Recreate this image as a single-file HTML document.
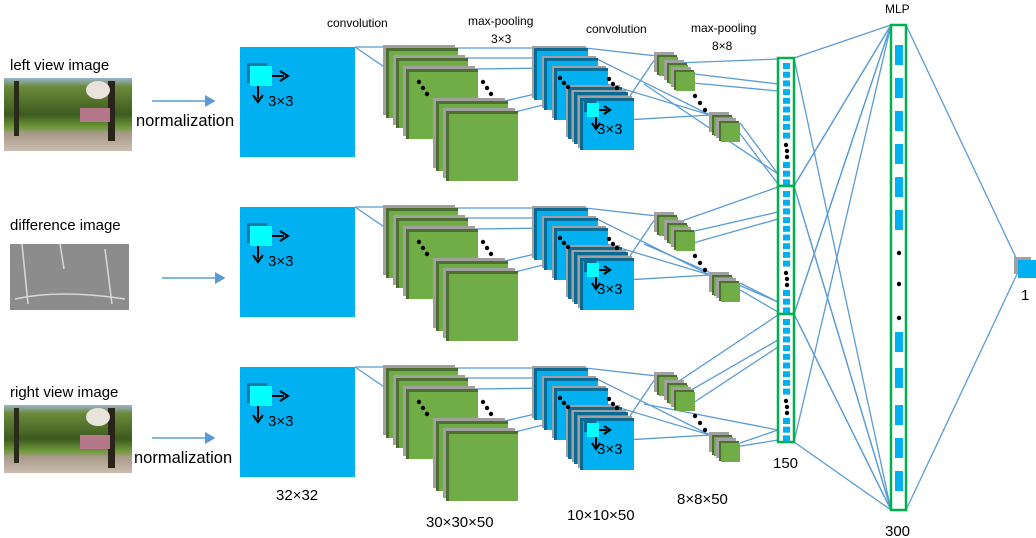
<!DOCTYPE html>
<html><head><meta charset="utf-8"><style>
body{margin:0;background:#fff}
svg{display:block;font-family:"Liberation Sans","DejaVu Sans",sans-serif}
</style></head><body>
<svg id="s" width="1036" height="538" viewBox="0 0 1036 538" xmlns="http://www.w3.org/2000/svg">
<defs>
<linearGradient id="photo" x1="0" y1="0" x2="0" y2="1">
<stop offset="0" stop-color="#9bb6d0"/><stop offset="0.12" stop-color="#6b8a3a"/><stop offset="0.5" stop-color="#3d5a1f"/><stop offset="0.68" stop-color="#6f9a3a"/><stop offset="0.76" stop-color="#a89a88"/><stop offset="1" stop-color="#c9bdb0"/>
</linearGradient>
<marker id="ah" markerWidth="8" markerHeight="8" refX="6" refY="4" orient="auto"><path d="M0,0 L7,4 L0,8 z" fill="#5b9bd5"/></marker>
</defs>
<g id="lines" stroke="#5b9bd5" stroke-width="1.3" fill="none"></g>
<g id="shapes"></g>
<g font-size="12" fill="#000">
<text x="327" y="27">convolution</text>
<text x="468" y="25">max-pooling</text>
<text x="491" y="43">3×3</text>
<text x="586" y="33">convolution</text>
<text x="691" y="32">max-pooling</text>
<text x="712" y="50">8×8</text>
<text x="885" y="13">MLP</text>
</g>
<g font-size="15" fill="#000">
<text x="10" y="70">left view image</text>
<text x="10" y="230">difference  image</text>
<text x="10" y="397">right view image</text>
<text x="136" y="126" font-size="16.5">normalization</text>
<text x="134" y="463" font-size="16.5">normalization</text>
<text x="276" y="500">32×32</text>
<text x="426" y="527">30×30×50</text>
<text x="567" y="520">10×10×50</text>
<text x="677" y="504">8×8×50</text>
<text x="773" y="468">150</text>
<text x="885" y="536">300</text>
<text x="1021" y="300">1</text>
</g>
</svg>
<script>
const NS="http://www.w3.org/2000/svg";
const S=document.getElementById('shapes'),L=document.getElementById('lines');
function mk(tag,a,p){const e=document.createElementNS(NS,tag);for(const k in a)e.setAttribute(k,a[k]);(p||S).appendChild(e);return e;}
function R(x,y,w,h,f,p){return mk('rect',{x:x,y:y,width:w,height:h,fill:f},p);}
function ln(x1,y1,x2,y2){mk('line',{x1:x1,y1:y1,x2:x2,y2:y2},L);}
function dot(x,y){mk('circle',{cx:x,cy:y,r:2.2,fill:'#000'});}
const rowOffsets=[0,160,320];
const rowNames=['left','difference','right'];
const photoY=[78,244,405];
const colH=128;
rowOffsets.forEach((d,i)=>{
  const py=photoY[i];
  const ph= i==1 ? R(10,py,119,66,'#8c8c8c') : R(4,py,128,i==2?68:73,'url(#photo)');
  
  
  if(i!=1){R(14,py+3,5,55,'#2a2a1a');R(108,py+3,7,60,'#2a2418');mk('ellipse',{cx:98,cy:py+12,rx:12,ry:9,fill:'#e8e4dc'});R(80,py+30,30,14,'#b4788a');}
  else{mk('path',{d:`M22 ${py} L28 ${py+60} M60 ${py} L64 ${py+25} M105 ${py+5} L112 ${py+60} M15 ${py+55} Q60 ${py+45} 125 ${py+55}`,stroke:'#d8d8d8','stroke-width':1.5,fill:'none'});}
  const ax=i==1?162:152, ay=[101,278,438][i];
  mk('line',{x1:ax,y1:ay,x2:ax+62,y2:ay,stroke:'#5b9bd5','stroke-width':1.5,'marker-end':'url(#ah)'});
  const b=R(240,47+d,115,110,'#00b0f0');
  
  
  R(247,63+d,20,20,'#0a78a8');R(250,66+d,22,20,'#00ffff');
  mk('path',{d:`M272 ${76+d} H284 M280 ${71+d} L288 ${76+d} L280 ${81+d}`,stroke:'#000','stroke-width':2,fill:'none'});
  mk('path',{d:`M258 ${86+d} V${99+d} M253 ${95+d} L258 ${102+d} L263 ${95+d}`,stroke:'#000','stroke-width':2,fill:'none'});
  mk('text',{x:268,y:106+d,'font-size':15}).textContent='3×3';
  ln(355,47+d,420,47+d);ln(355,47+d,450,112+d);
  const g=[[383,45],[393,55],[403,66],[433,98],[443,108]];
  g.forEach(([x,y])=>{R(x,y+d,72,70,'#a0a0a0');R(x+3,y+3+d,72,70,'#4f6f30');R(x+6,y+6+d,69,67,'#70ad47');});
  dot(419,82+d);dot(423,88+d);dot(427,94+d);dot(483,82+d);dot(487,88+d);dot(491,94+d);
  ln(455,48+d,532,48+d);ln(465,58+d,540,58+d);ln(475,69+d,550,68+d);ln(505,101+d,565,87+d);ln(515,112+d,575,97+d);
  const p=[[532,46],[542,56],[552,66],[566,85],[572,90],[578,96]];
  p.forEach(([x,y])=>{R(x,y+d,54,52,'#a0a0a0');R(x+2,y+2+d,54,52,'#0a6a94');R(x+5,y+5+d,51,49,'#00b0f0');});
  R(584,100+d,12,12,'#0a6a94');R(587,103+d,12,14,'#00ffff');
  mk('path',{d:`M599 ${110+d} H607 M604 ${106+d} L610 ${110+d} L604 ${114+d}`,stroke:'#000','stroke-width':2,fill:'none'});
  mk('path',{d:`M596 ${117+d} V${127+d} M592 ${123+d} L596 ${129+d} L600 ${123+d}`,stroke:'#000','stroke-width':2,fill:'none'});
  mk('text',{x:597,y:134+d,'font-size':15}).textContent='3×3';
  dot(560,78+d);dot(564,83+d);dot(568,87+d);dot(609,79+d);dot(613,84+d);dot(617,88+d);
  ln(585,48+d,657,56+d);ln(595,58+d,710,115+d);ln(630,96+d,657,56+d);ln(625,120+d,710,115+d);ln(560,70+d,720,118+d);
  const q=[[654,52],[664,60],[671,67],[709,112],[716,118]];
  q.forEach(([x,y])=>{R(x,y+d,20,20,'#a0a0a0');R(x+3,y+3+d,20,20,'#4f6f30');R(x+5,y+5+d,19,19,'#70ad47');});
  dot(695,96+d);dot(700,103+d);dot(705,110+d);
  const cy=58+colH*i;
  ln(676,63+d,778,cy+1);ln(686,73+d,778,cy+26);ln(693,83+d,778,cy+33);ln(740,123+d,778,cy+116);ln(735,127+d,778,cy+126);ln(644,84+d,778,cy+116);
  const c=R(778,cy,16,colH,'#fff');c.setAttribute('stroke','#00b050');c.setAttribute('stroke-width','2.5');
  
  
  for(let k=0;k<9;k++)R(783,cy+5+k*8.7,7,6,'#00b0f0');
  dot(786,cy+87);dot(787,cy+93);dot(787,cy+99);
  for(let k=0;k<3;k++)R(783,cy+104+k*8.7,7,6,'#00b0f0');
  ln(794,cy,891,25);ln(794,cy,891,510);ln(794,cy+colH,891,25);ln(794,cy+colH,891,510);
});
const m=R(891,25,15,485,'#fff');m.setAttribute('stroke','#00b050');m.setAttribute('stroke-width','2.5');


const barsY=[45,78,111,144,177,210,332,368,405,438,471];
barsY.forEach(y=>R(895,y,8,20,'#00b0f0'));
dot(899,253);dot(899,284);dot(899,318);
ln(906,25,1018,262);ln(906,510,1018,272);
R(1014,257,17,17,'#a0a0a0');
const o=R(1018,260,18,18,'#00b0f0');


</script>
</body></html>
